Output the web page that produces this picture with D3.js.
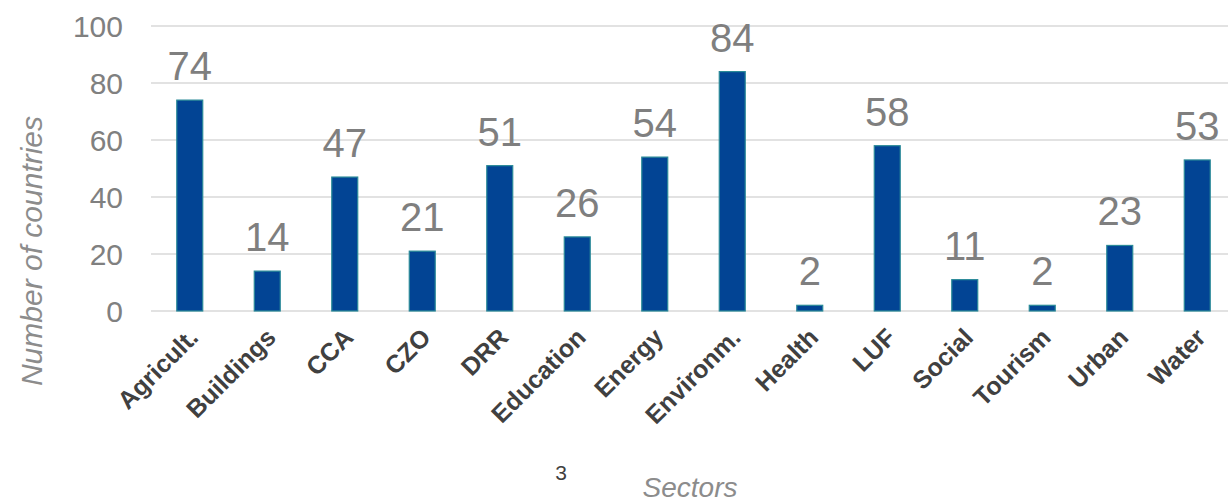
<!DOCTYPE html>
<html><head><meta charset="utf-8">
<script src="https://cdn.jsdelivr.net/npm/d3@7"></script>
<style>html,body{margin:0;padding:0;background:#fff;}svg{display:block;font-family:Arial,"Liberation Sans",sans-serif;}</style>
</head><body>
<script>
const categories = ["Agricult.","Buildings","CCA","CZO","DRR","Education","Energy","Environm.","Health","LUF","Social","Tourism","Urban","Water"];
const values = [74,14,47,21,51,26,54,84,2,58,11,2,23,53];
const yTicks = [0,20,40,60,80,100];
const yTitle = "Number of countries";
const xTitle = "Sectors";
const pageNumber = "3";

const W = 1228, H = 503;
const svg = d3.select("body").append("svg").attr("width", W).attr("height", H);

const x = d3.scaleBand().domain(categories).range([151, 1236]).paddingInner(0.665).paddingOuter(0.3325);
const y = d3.scaleLinear().domain([0, 100]).range([311, 26]);

// gridlines
svg.append("g").selectAll("line").data(yTicks).join("line")
  .attr("x1", 151).attr("x2", W).attr("y1", d => y(d)).attr("y2", d => y(d))
  .attr("stroke", "#d9d9d9").attr("stroke-width", 1.5);

// y axis labels
const yAxis = d3.axisLeft(y).tickValues(yTicks).tickSize(0).tickPadding(0);
const gy = svg.append("g").attr("transform", "translate(123,0)").call(yAxis);
gy.select(".domain").remove();
gy.selectAll("text").attr("font-size", 30).attr("fill", "#808080").attr("font-family", "Arial, 'Liberation Sans', sans-serif").attr("dy", "0.35em");

// bars
svg.append("g").selectAll("rect").data(values).join("rect")
  .attr("x", (d, i) => x(categories[i]))
  .attr("width", x.bandwidth())
  .attr("y", d => y(d))
  .attr("height", d => y(0) - y(d))
  .attr("fill", "#024494")
  .attr("stroke", "#2a8a98").attr("stroke-width", 1.2);

// value labels
svg.append("g").selectAll("text").data(values).join("text")
  .attr("x", (d, i) => x(categories[i]) + x.bandwidth() / 2)
  .attr("y", d => y(d) - 20)
  .attr("text-anchor", "middle")
  .attr("font-size", 40).attr("fill", "#7f7f7f")
  .text(d => d);

// x axis labels
const xAxis = d3.axisBottom(x).tickSize(0).tickPadding(0);
const gx = svg.append("g").attr("transform", "translate(0,311)").call(xAxis);
gx.select(".domain").remove();
gx.selectAll("text")
  .attr("font-size", 25).attr("font-weight", "bold").attr("fill", "#404040")
  .attr("font-family", "Arial, 'Liberation Sans', sans-serif")
  .attr("text-anchor", "end").attr("dy", 0)
  .attr("transform", "translate(10,28) rotate(-45)");

// y title
svg.append("text")
  .attr("transform", "translate(42,251) rotate(-90)")
  .attr("text-anchor", "middle").attr("font-size", 30).attr("font-style", "italic")
  .attr("fill", "#8c8c8c").text(yTitle);

// x title
svg.append("text").attr("x", 690).attr("y", 497).attr("text-anchor", "middle")
  .attr("font-size", 28).attr("font-style", "italic").attr("fill", "#8c8c8c").text(xTitle);

// page number
svg.append("text").attr("x", 561).attr("y", 480).attr("text-anchor", "middle")
  .attr("font-size", 21).attr("fill", "#404040").text(pageNumber);
</script>
</body></html>
